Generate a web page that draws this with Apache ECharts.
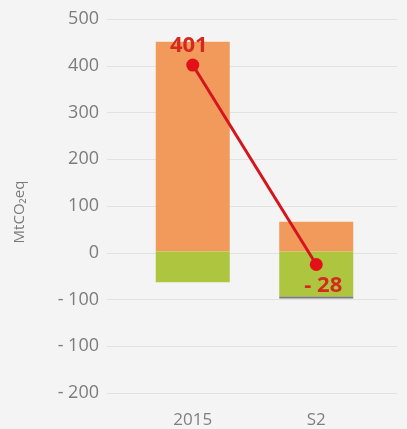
<!DOCTYPE html>
<html>
<head>
<meta charset="utf-8">
<script src="https://cdn.jsdelivr.net/npm/echarts@6/dist/echarts.min.js"></script>
<style>
  html, body { margin: 0; padding: 0; background: #f4f4f4; }
  #chart { width: 407px; height: 429px; }
</style>
</head>
<body>
<div id="chart"></div>
<script>
// Scenario categories
const categories = ['2015', 'S2'];
// Emissions (positive part), sinks (negative part) and a small residual sink
const emissions = [451, 64];
const sinks = [-66, -97];
const residual = [0, -4];
// Net balance shown by the red line
const netBalance = [401, -28];
const netLabels = ['401', '- 28'];
// Y axis tick values and their printed labels
const yTicks = [500, 400, 300, 200, 100, 0, -100, -200, -300];
const yTickLabels = ['500', '400', '300', '200', '100', '0', '- 100', '- 100', '- 200'];

const FONT = '"Open Sans", "Noto Sans", sans-serif';
const Y_MIN = -300, Y_MAX = 500;
// where each net-balance label sits relative to its point
const netLabelOffsets = [[-4, -19], [7, 21]];

const chart = echarts.init(document.getElementById('chart'), null, { renderer: 'canvas' });

chart.setOption({
  backgroundColor: '#f4f4f4',
  animation: false,
  grid: [
    // full-width grid carrying the value labels and the horizontal guide lines
    { left: 107, right: 10, top: 19, bottom: 36 },
    // narrower grid where the bars and the line sit
    { left: 131, right: 29, top: 19, bottom: 36 }
  ],
  graphic: [{
    type: 'text', x: 20, y: 212, rotation: Math.PI / 2,
    style: {
      text: 'MtCO₂eq', fill: '#7a7a7a', fontSize: 15, fontFamily: FONT,
      align: 'center', verticalAlign: 'middle'
    }
  }],
  xAxis: [
    { gridIndex: 0, type: 'category', data: categories, show: false },
    {
      gridIndex: 1, type: 'category', data: categories,
      axisLine: { show: false }, axisTick: { show: false },
      axisLabel: { color: '#7f7f7f', fontSize: 17, fontFamily: FONT, margin: 21 }
    }
  ],
  yAxis: [
    {
      gridIndex: 0, type: 'value', min: Y_MIN, max: Y_MAX, interval: 100,
      axisLine: { show: false }, axisTick: { show: false },
      splitLine: { lineStyle: { color: '#e2e2e2', width: 1 } },
      axisLabel: {
        color: '#7c7c7c', fontSize: 18, fontFamily: FONT, margin: 8,
        formatter: v => {
          const i = yTicks.indexOf(v);
          return i >= 0 ? yTickLabels[i] : '';
        }
      }
    },
    { gridIndex: 1, type: 'value', min: Y_MIN, max: Y_MAX, show: false }
  ],
  series: [
    {
      type: 'bar', xAxisIndex: 1, yAxisIndex: 1, stack: 'bal',
      data: emissions, barWidth: 74, itemStyle: { color: '#f29a5c' }
    },
    {
      type: 'bar', xAxisIndex: 1, yAxisIndex: 1, stack: 'bal',
      data: sinks, barWidth: 74, itemStyle: { color: '#aec63f' }
    },
    {
      type: 'bar', xAxisIndex: 1, yAxisIndex: 1, stack: 'bal',
      data: residual, barWidth: 74, itemStyle: { color: '#7d7d73' }
    },
    {
      type: 'line', xAxisIndex: 1, yAxisIndex: 1, z: 5,
      data: netBalance.map((v, i) => ({
        value: v,
        label: { offset: netLabelOffsets[i] }
      })),
      symbol: 'circle', symbolSize: 13,
      lineStyle: { color: '#d4151d', width: 3 },
      itemStyle: { color: '#e3101a' },
      label: {
        show: true, position: 'inside',
        color: '#d42a1e', fontSize: 22, fontWeight: 'bold', fontFamily: FONT,
        formatter: p => netLabels[p.dataIndex]
      }
    }
  ]
});
</script>
</body>
</html>
